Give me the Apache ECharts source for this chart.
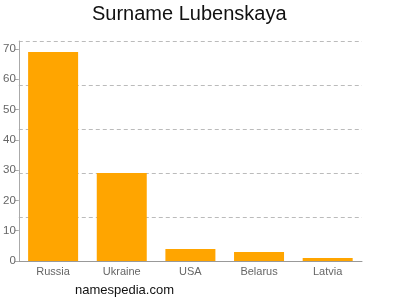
<!DOCTYPE html>
<html><head><meta charset="utf-8">
<script src="https://cdn.jsdelivr.net/npm/echarts@6/dist/echarts.min.js"></script>
<style>html,body{margin:0;padding:0;background:#fff}#c{width:400px;height:300px}</style>
</head><body><div id="c"></div>
<script>
const categories = ["Russia", "Ukraine", "USA", "Belarus", "Latvia"];
const values = [69, 29, 4, 3, 1];
const axisMax = 72.6;
const labelInterval = 10;
const gridInterval = 14.52;

const chart = echarts.init(document.getElementById('c'), null, {renderer: 'canvas'});
chart.setOption({
  animation: false,
  graphic: [{
    type: 'text', left: 92, top: 4,
    style: {text: 'Surname Lubenskaya', font: '20px "Liberation Sans"', fill: '#111'}
  }, {
    type: 'text', left: 75, top: 284,
    style: {text: 'namespedia.com', font: '13px "Liberation Sans"', fill: '#111'}
  }],
  grid: {left: 17, right: 38, top: 41, bottom: 39, containLabel: false},
  xAxis: {
    type: 'category', data: categories,
    axisLine: {lineStyle: {color: '#999'}},
    axisTick: {alignWithLabel: true, length: 4, lineStyle: {color: '#999'}},
    axisLabel: {color: '#666', fontFamily: 'Liberation Sans', fontSize: 11, margin: 5}
  },
  yAxis: [{
    type: 'value', min: 0, max: axisMax, interval: labelInterval,
    axisLine: {show: true, lineStyle: {color: '#aaa'}},
    axisTick: {show: true, length: 4, lineStyle: {color: '#aaa'}},
    axisLabel: {color: '#666', fontFamily: 'Liberation Sans', fontSize: 11.5, margin: 3,
      showMaxLabel: false},
    splitLine: {show: false}
  }, {
    type: 'value', min: 0, max: axisMax, interval: gridInterval, position: 'left',
    axisLine: {show: false}, axisTick: {show: false}, axisLabel: {show: false},
    splitLine: {show: true, lineStyle: {color: '#bbb', type: [4, 3]}}
  }],
  series: [{
    type: 'bar', data: values, yAxisIndex: 0, barWidth: 50,
    itemStyle: {color: '#FFA500'}
  }]
});
</script></body></html>
